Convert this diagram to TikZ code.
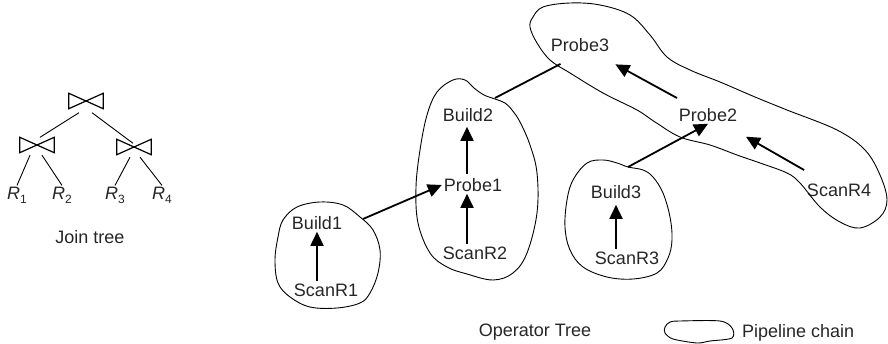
\documentclass[tikz,border=0pt]{standalone}
\usepackage{fontspec}
\setmainfont{Liberation Sans}
\usetikzlibrary{arrows.meta, positioning, calc}

\newcommand{\rel}[1]{\textit{R}\raisebox{-4pt}{\fontsize{12}{14}\selectfont #1}}

\begin{document}
\begin{tikzpicture}[
    x=1pt, y=-1pt, >={Triangle[length=14pt, width=13pt]},
    op/.style={inner sep=2pt, font=\fontsize{18}{22}\selectfont, text=black!85},
    flow/.style={->, line width=1.8pt},
    blob/.style={line width=0.9pt},
    bowtie/.style={minimum width=34pt, minimum height=15pt, inner sep=0pt}
  ]
  \useasboundingbox (0,0) rectangle (888,344);

  % join tree
  \node[bowtie] (j0) at (86,101) {};
  \node[bowtie] (j1) at (37,145) {};
  \node[bowtie] (j2) at (134,147) {};
  \foreach \j in {j0,j1,j2}
    \draw[line width=1.2pt] (\j.north west) -- (\j.south east) -- (\j.north east)
      -- (\j.south west) -- cycle;
  \node[op, anchor=base] (r1) at (17,200) {\rel{1}};
  \node[op, anchor=base] (r2) at (62,200) {\rel{2}};
  \node[op, anchor=base] (r3) at (115,200) {\rel{3}};
  \node[op, anchor=base] (r4) at (162,200) {\rel{4}};
  \draw[line width=0.9pt] ([shift={(-7,4)}]j0.south) -- ([shift={(3,0)}]j1.north);
  \draw[line width=0.9pt] ([shift={(6,4)}]j0.south) -- ([shift={(-1,4)}]j2.north);
  \draw[line width=0.9pt] ([shift={(-7,2.5)}]j1.south) -- (r1.north);
  \draw[line width=0.9pt] ([shift={(5,2.5)}]j1.south) -- (r2.north);
  \draw[line width=0.9pt] ([shift={(-4,2.5)}]j2.south) -- (r3.north);
  \draw[line width=0.9pt] ([shift={(6,2.5)}]j2.south) -- (r4.north);
  \node[op] (jlabel) at (90,237) {Join tree};

  % operator tree
  \node[op] (build1) at (317,223) {Build1};
  \node[op] (scanr1) at (326,290) {ScanR1};
  \node[op] (build2) at (468,115) {Build2};
  \node[op] (probe1) at (473,185) {Probe1};
  \node[op] (scanr2) at (475,253) {ScanR2};
  \node[op] (build3) at (616,192) {Build3};
  \node[op] (scanr3) at (627,258) {ScanR3};
  \node[op] (probe3) at (580,45) {Probe3};
  \node[op] (probe2) at (708,115) {Probe2};
  \node[op] (scanr4) at (839,190) {ScanR4};

  % pipeline chains
  \draw[blob] plot[smooth cycle, tension=0.6] coordinates {
    (283,220) (297,207) (320,202) (343,205) (360,217) (373,230) (380,250)
    (378,273) (370,293) (360,303) (337,308) (310,307) (290,297) (278,283)
    (275,260) (278,237)};
  \draw[blob] plot[smooth cycle, tension=0.6] coordinates {
    (437,92) (453,80) (465,80) (474,88) (484,95) (495,99) (505,103) (512,110)
    (520,122) (530,145) (537,173) (537,213) (527,253) (513,273) (493,280)
    (467,274) (447,267) (430,253) (418,223) (416,187) (420,150) (427,115)};
  \draw[blob] plot[smooth cycle, tension=0.6] coordinates {
    (573,180) (587,163) (603,160) (617,163) (628,167) (643,170) (653,177)
    (663,193) (670,217) (672,240) (668,258) (657,273) (633,279) (607,277)
    (583,267) (570,250) (565,227) (567,200)};
  \draw[blob] plot[smooth cycle, tension=0.6] coordinates {
    (533,17) (543,7) (570,3) (600,5) (630,15) (650,35) (667,57) (690,70)
    (720,82) (755,97) (787,110) (837,130) (865,150) (880,175) (887,200)
    (880,217) (860,228) (840,222) (820,207) (800,183) (787,173) (760,163)
    (737,155) (710,145) (680,137) (655,122) (637,110) (603,93) (570,73)
    (550,60) (537,43) (530,27)};

  % edges leave the chains at their outline
  \coordinate (b1edge) at (363,219);
  \coordinate (b2edge) at (495,98);
  \coordinate (b3edge) at (628,167);

  \draw[flow] (scanr1.north -| build1) -- (build1.south);
  \draw[flow] ([xshift=-6pt]probe1.south |- scanr2.north) -- ([xshift=-6pt]probe1.south);
  \draw[flow, shorten <=2pt, shorten >=3pt] ([xshift=-6pt]probe1.north)
    -- ([xshift=-6pt]probe1.north |- build2.south);
  \draw[flow] (scanr3.north -| build3) -- ([yshift=-4pt]build3.south);
  \draw[flow] (b1edge) -- (probe1.west);
  \draw[line width=1.8pt, shorten >=22pt] (b2edge) -- (probe3.south);
  \draw[flow] (b3edge) -- (probe2.south);
  \draw[flow, shorten <=17pt, shorten >=22pt] (probe2) -- (probe3);
  \draw[flow, shorten <=23pt, shorten >=26pt] (scanr4) -- (probe2);

  % legend
  \node[op] (optree) at (535,332) {Operator Tree};
  \draw[blob] plot[smooth cycle, tension=0.5] coordinates {
    (665,327) (670,322) (680,321) (720,321) (732,328) (732,338) (710,341)
    (697,343) (673,339) (665,333)};
  \node[op, anchor=west] (legend) at (740,333) {Pipeline chain};
\end{tikzpicture}
\end{document}
